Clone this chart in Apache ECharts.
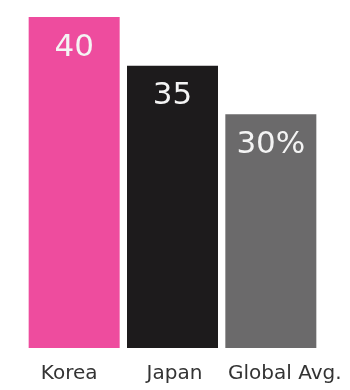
<!DOCTYPE html>
<html>
<head>
<meta charset="utf-8">
<script src="https://cdn.jsdelivr.net/npm/echarts@6/dist/echarts.min.js"></script>
<style>
html, body { margin: 0; padding: 0; background: #fff; }
#chart { width: 350px; height: 390px; }
</style>
</head>
<body>
<div id="chart"></div>
<script>
var categories = ['Korea', 'Japan', 'Global Avg.'];
var values = [40, 35, 30];
var valueLabels = ['40', '35', '30%'];
var barColors = ['#ee4c9e', '#1d1b1c', '#6b6a6b'];
// small nudges so the names sit where the reference puts them
var labelPads = [[0, 10, 0, 0], [0, 0, 0, 4], [0, 0, 0, 28]];

var myChart = echarts.init(document.getElementById('chart'));

var option = {
    animation: false,
    grid: { left: 25, right: 30, top: 17, bottom: 42 },
    xAxis: {
        type: 'category',
        data: categories.map(function (c, i) {
            return { value: c, textStyle: { padding: labelPads[i] } };
        }),
        axisLine: { show: false },
        axisTick: { show: false },
        axisLabel: {
            interval: 0,
            hideOverlap: false,
            margin: 16,
            fontSize: 20,
            color: '#333',
            fontFamily: 'DejaVu Sans'
        }
    },
    yAxis: {
        type: 'value',
        min: 6,
        max: 40,
        show: false
    },
    series: [{
        type: 'bar',
        barWidth: 91,
        data: values.map(function (v, i) {
            return { value: v, itemStyle: { color: barColors[i] } };
        }),
        label: {
            show: true,
            position: 'insideTop',
            distance: 15,
            fontSize: 31,
            color: '#f4f4f4',
            fontFamily: 'DejaVu Sans',
            formatter: function (p) { return valueLabels[p.dataIndex]; }
        }
    }]
};

myChart.setOption(option);
</script>
</body>
</html>
